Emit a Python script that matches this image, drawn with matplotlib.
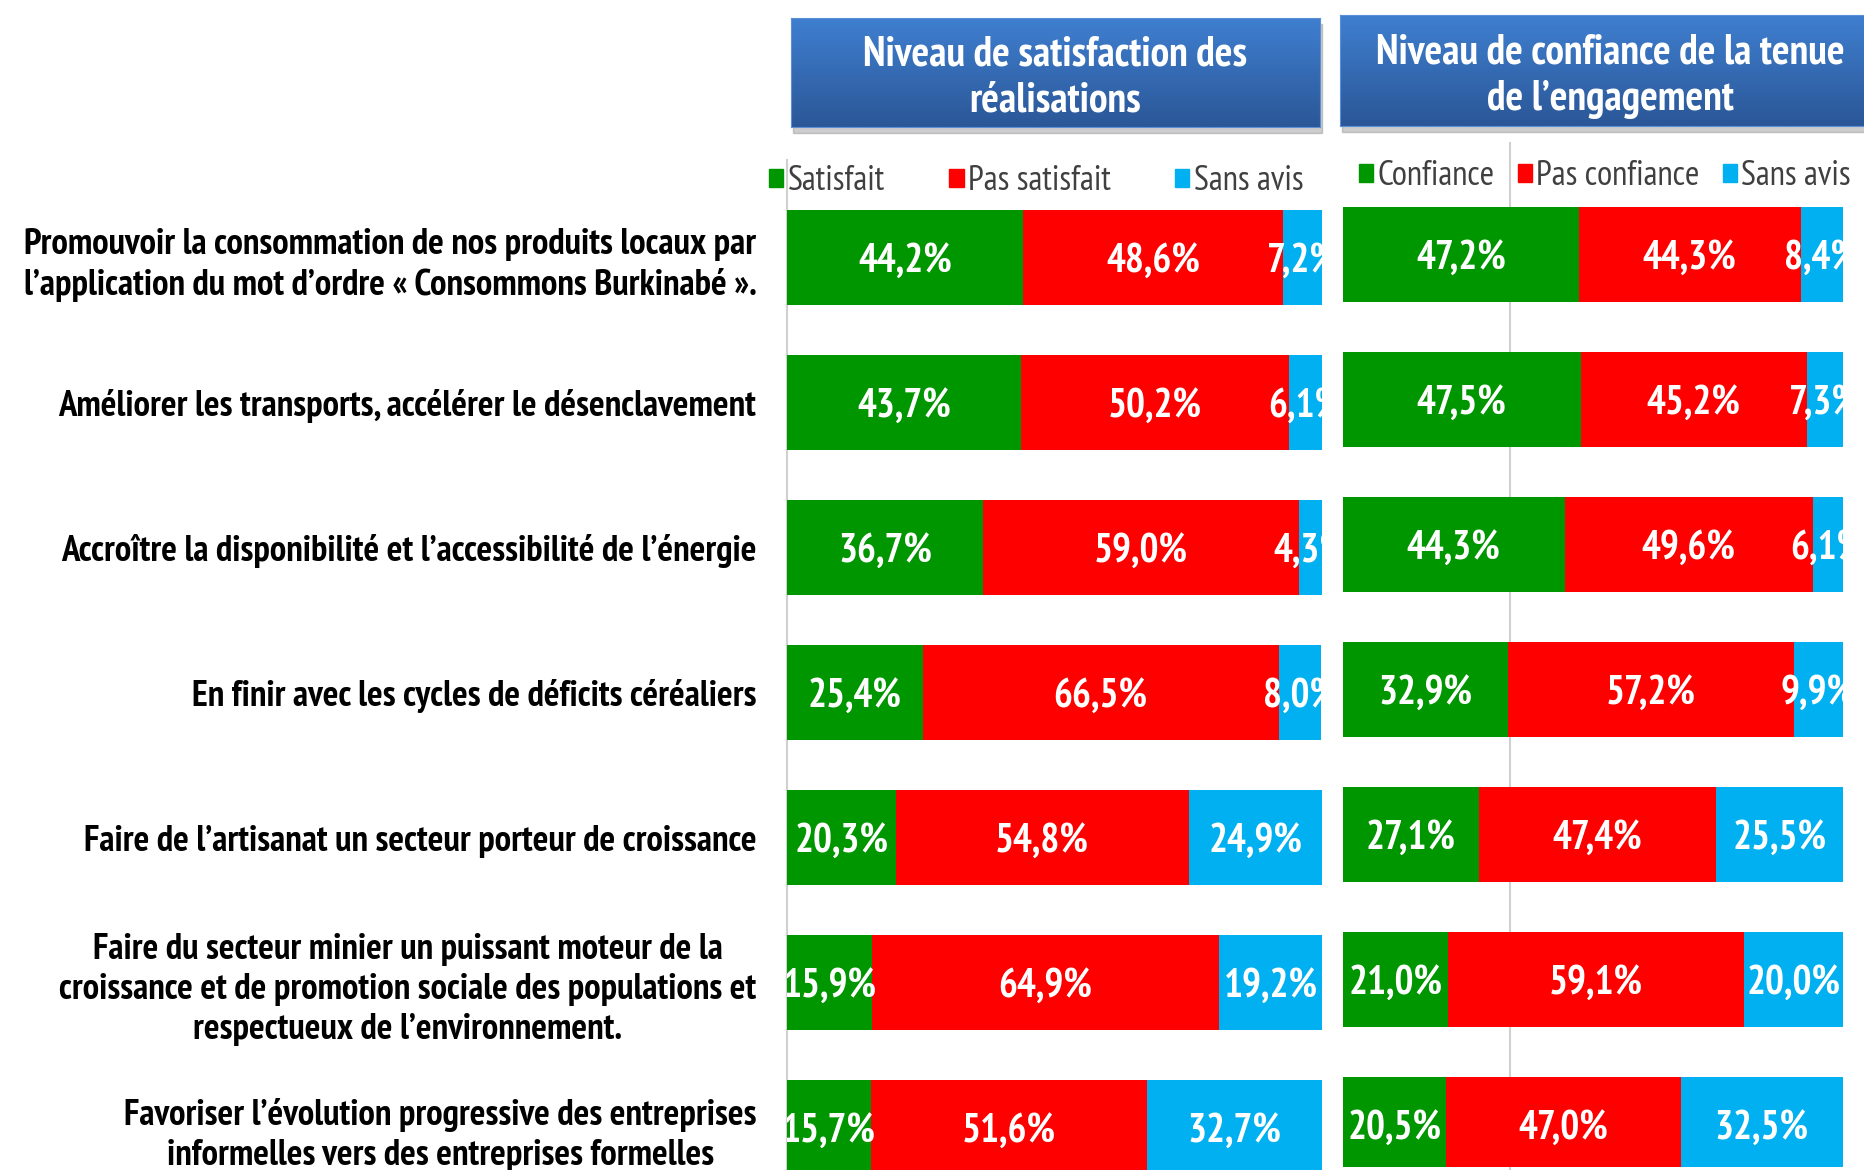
import numpy as np
import matplotlib.pyplot as plt
from matplotlib import font_manager
from matplotlib.patches import Patch, Rectangle
from matplotlib.lines import Line2D
from matplotlib.colors import LinearSegmentedColormap

# Values
categories = [
    "Promouvoir la consommation de nos produits locaux par\nl\u2019application du mot d\u2019ordre \u00ab Consommons Burkinab\u00e9 \u00bb.",
    "Am\u00e9liorer les transports, acc\u00e9l\u00e9rer le d\u00e9senclavement",
    "Accro\u00eetre la disponibilit\u00e9 et l\u2019accessibilit\u00e9 de l\u2019\u00e9nergie",
    "En finir avec les cycles de d\u00e9ficits c\u00e9r\u00e9aliers",
    "Faire de l\u2019artisanat un secteur porteur de croissance",
    "Faire du secteur minier un puissant moteur de la\ncroissance et de promotion sociale des populations et\nrespectueux de l\u2019environnement.",
    "Favoriser l\u2019\u00e9volution progressive des entreprises\ninformelles vers des entreprises formelles",
]
satisfait = [44.2, 43.7, 36.7, 25.4, 20.3, 15.9, 15.7]
pas_satisfait = [48.6, 50.2, 59.0, 66.5, 54.8, 64.9, 51.6]
sans_avis_sat = [7.2, 6.1, 4.3, 8.0, 24.9, 19.2, 32.7]

confiance = [47.2, 47.5, 44.3, 32.9, 27.1, 21.0, 20.5]
pas_confiance = [44.3, 45.2, 49.6, 57.2, 47.4, 59.1, 47.0]
sans_avis_conf = [8.4, 7.3, 6.1, 9.9, 25.5, 20.0, 32.5]

titles = ["Niveau de satisfaction des\nr\u00e9alisations",
          "Niveau de confiance de la tenue\nde l\u2019engagement"]
legend_sat = ["Satisfait", "Pas satisfait", "Sans avis"]
legend_conf = ["Confiance", "Pas confiance", "Sans avis"]

colors = ["#009600", "#FF0000", "#00B0F0"]

# narrow bold font, Arial Narrow look-alike, needs a real bold face
bold_fams = {f.name for f in font_manager.fontManager.ttflist
             if isinstance(f.weight, int) and f.weight >= 700 or f.weight == "bold"}
wanted = ["Liberation Sans Narrow", "Arial Narrow", "PT Sans Narrow", "Archivo Narrow",
          "Roboto Condensed", "Open Sans Condensed", "IBM Plex Sans Condensed", "DejaVu Sans"]
narrow = next(n for n in wanted if n in bold_fams)
plt.rcParams['font.family'] = [narrow, "DejaVu Sans"]

W, H = 1864, 1170
fig = plt.figure(figsize=(W / 100, H / 100), dpi=100)


def rect(x0, y0, x1, y1):
    return [x0 / W, 1 - y1 / H, (x1 - x0) / W, (y1 - y0) / H]


def fmt(v):
    return ("%.1f" % v).replace(".", ",") + "%"


def draw_panel(ax, series):
    y = np.arange(len(categories))
    left = np.zeros(len(categories))
    for vals, col in zip(series, colors):
        vals = np.array(vals)
        ax.barh(y, vals, left=left, height=0.655, color=col, zorder=2)
        for yi, l, v in zip(y, left, vals):
            # small downward nudge so the digits sit mid-bar like the original
            ax.text(l + v / 2, yi + 0.035, fmt(v), ha="center", va="center",
                    color="white", fontsize=28.5, fontweight="bold",
                    clip_on=True, zorder=3)
        left = left + vals
    ax.set_xlim(0, 100)
    ax.set_ylim(6.293, -0.5)
    ax.patch.set_visible(False)
    for s in ax.spines.values():
        s.set_visible(False)
    ax.set_xticks([])


ax1 = fig.add_axes(rect(787, 185, 1322, 1170))
draw_panel(ax1, [satisfait, pas_satisfait, sans_avis_sat])
ax1.set_yticks(np.arange(len(categories)))
ax1.set_yticklabels(categories, fontsize=26.5, fontweight="bold", color="black")
ax1.tick_params(axis="y", length=0, pad=22)
for lab in ax1.get_yticklabels():
    lab.set_multialignment("center")
    lab.set_linespacing(1.28)

ax2 = fig.add_axes(rect(1343, 182, 1843, 1167))
draw_panel(ax2, [confiance, pas_confiance, sans_avis_conf])
ax2.set_yticks([])

# light vertical guide lines
fig.add_artist(Line2D([787 / W, 787 / W], [1 - 160 / H, 0], color="#D0D0D0",
                      lw=1.5, transform=fig.transFigure, zorder=-1))
fig.add_artist(Line2D([1510 / W, 1510 / W], [1 - 143 / H, 0], color="#D0D0D0",
                      lw=1.5, transform=fig.transFigure, zorder=-1))

# header boxes with gradient
cmap = LinearSegmentedColormap.from_list("hdr", ["#3F7FD0", "#2B5797"])
grad = np.linspace(0, 1, 100).reshape(-1, 1)
for (x0, y0, x1, y1), title in zip([(791, 18, 1320, 127), (1340, 15, 1880, 126)], titles):
    fig.patches.append(Rectangle(((x0 + 2) / W, 1 - (y1 + 6) / H), (x1 - x0) / W,
                                 (y1 - y0) / H, transform=fig.transFigure,
                                 color="#909090", alpha=0.45, zorder=-2))
    hax = fig.add_axes(rect(x0, y0, x1, y1))
    hax.imshow(grad, aspect="auto", cmap=cmap, extent=[0, 1, 0, 1], origin="upper")
    hax.set_xticks([])
    hax.set_yticks([])
    for s in hax.spines.values():
        s.set_color("#5B8FD6")
    hax.text(0.5, 0.45, title, ha="center", va="center", color="white",
             fontsize=30, fontweight="bold", linespacing=1.25,
             transform=hax.transAxes)

# legends
handles = [Patch(color=c) for c in colors]
fig.legend(handles, legend_sat, loc="center", bbox_to_anchor=(1036 / W, 1 - 181 / H),
           ncol=3, frameon=False, fontsize=25, labelcolor="#404040",
           handlelength=0.42, handleheight=0.42, handletextpad=0.12,
           columnspacing=1.85, borderpad=0, borderaxespad=0)
fig.legend(handles, legend_conf, loc="center", bbox_to_anchor=(1605 / W, 1 - 176 / H),
           ncol=3, frameon=False, fontsize=25, labelcolor="#404040",
           handlelength=0.42, handleheight=0.42, handletextpad=0.12,
           columnspacing=0.66, borderpad=0, borderaxespad=0)

plt.savefig("out.png", dpi=100)
